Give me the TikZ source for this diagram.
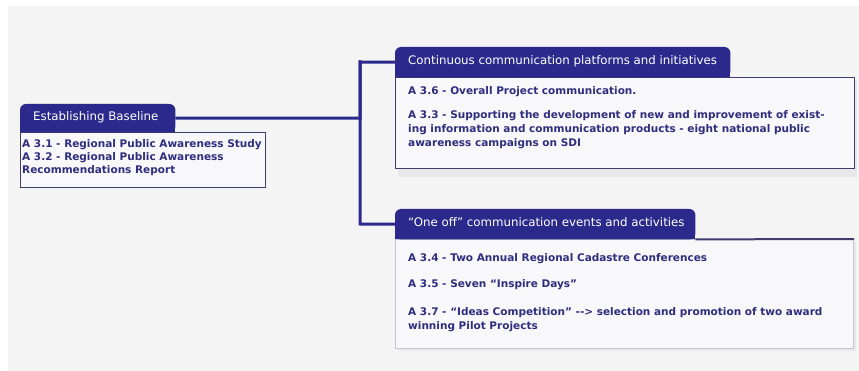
\documentclass[tikz,border=0pt]{standalone}
\usepackage{fontspec}
\setmainfont{DejaVu Sans}
\definecolor{panelc}{HTML}{F4F4F4}
\definecolor{tabblue}{HTML}{2B2A8C}
\definecolor{itemblue}{HTML}{2F2D7E}
\definecolor{bodyfill}{HTML}{F8F8FA}
\definecolor{bordernavy}{HTML}{3E3D6E}
\definecolor{bordergray}{HTML}{C6C6CE}
\definecolor{shadowc}{HTML}{E8E8EC}
\begin{document}
\begin{tikzpicture}[x=1pt,y=-1pt,
  tabtxt/.style={font=\fontsize{11.8}{13}\selectfont, text=white, anchor=west, inner sep=0pt, text height=8.5pt, text depth=2.5pt},
  itemtxt/.style={font=\fontsize{10.5}{12}\selectfont\bfseries, text=itemblue, anchor=west, inner sep=0pt, text height=8pt, text depth=2.5pt},
  tabbox/.style={draw=none, fill=none, inner sep=0pt, anchor=north west},
  bodybox/.style={inner sep=0pt, anchor=north west, fill=bodyfill, line width=1.2pt},
  conn/.style={draw=tabblue, line width=3pt},
  tabfill/.style={fill=tabblue, rounded corners=6pt}
]
\useasboundingbox (0,0) rectangle (859,371);
\fill[white] (0,0) rectangle (859,371);
\fill[panelc] (8,6) rectangle (859,371);

% bodies
\node[bodybox, draw=bordernavy, minimum width=245pt, minimum height=55pt] (lbody) at (20,132) {};
\fill[shadowc] (398,80) rectangle (857,177);
\node[bodybox, draw=bordernavy, minimum width=459pt, minimum height=91pt] (tbody) at (395,77) {};
\fill[shadowc] (398,242) rectangle (856,351);
\node[bodybox, draw=bordergray, minimum width=458pt, minimum height=109pt] (bbody) at (395,239) {};

% tabs (shapes)
\node[tabbox, minimum width=155pt, minimum height=28pt] (ltab) at (20,104) {};
\node[tabbox, minimum width=335pt, minimum height=30pt] (ttab) at (395,47) {};
\node[tabbox, minimum width=300pt, minimum height=30pt] (btab) at (395,209) {};
\foreach \t in {ltab,ttab,btab}{
  \fill[tabfill] (\t.south west) -- (\t.north west) -- (\t.north east) -- (\t.south east) -- cycle;
  \fill[tabblue] (\t.west) rectangle (\t.south east);
}
\draw[draw=bordernavy, line width=2pt] (btab.south east) -- (bbody.north east);

% connectors
\coordinate (jt) at (360,62);
\coordinate (jb) at (360,224);
\draw[conn] (ltab.east) -| (jt) -- (ttab.west);
\draw[conn, line cap=rect] (jt) -- (jb) -- (btab.west);

% tab texts
\node[tabtxt] (ltabt) at (33,118) {Establishing Baseline};
\node[tabtxt] (ttabt) at (408,62) {Continuous communication platforms and initiatives};
\node[tabtxt] (btabt) at (408,224) {“One off” communication events and activities};

% items
\node[itemtxt] (l1) at (22,145) {A 3.1 - Regional Public Awareness Study};
\node[itemtxt] (l2) at (22,158) {A 3.2 - Regional Public Awareness};
\node[itemtxt] (l3) at (22,171) {Recommendations Report};

\node[itemtxt] (t1) at (408,92) {A 3.6 - Overall Project communication.};
\node[itemtxt] (t2) at (408,116) {A 3.3 - Supporting the development of new and improvement of exist-};
\node[itemtxt] (t3) at (408,130) {ing information and communication products - eight national public};
\node[itemtxt] (t4) at (408,144) {awareness campaigns on SDI};

\node[itemtxt] (b1) at (408,259) {A 3.4 - Two Annual Regional Cadastre Conferences};
\node[itemtxt] (b2) at (408,285) {A 3.5 - Seven “Inspire Days”};
\node[itemtxt] (b3) at (408,313) {A 3.7 - “Ideas Competition” -{}-> selection and promotion of two award};
\node[itemtxt] (b4) at (408,327) {winning Pilot Projects};
\end{tikzpicture}
\end{document}
